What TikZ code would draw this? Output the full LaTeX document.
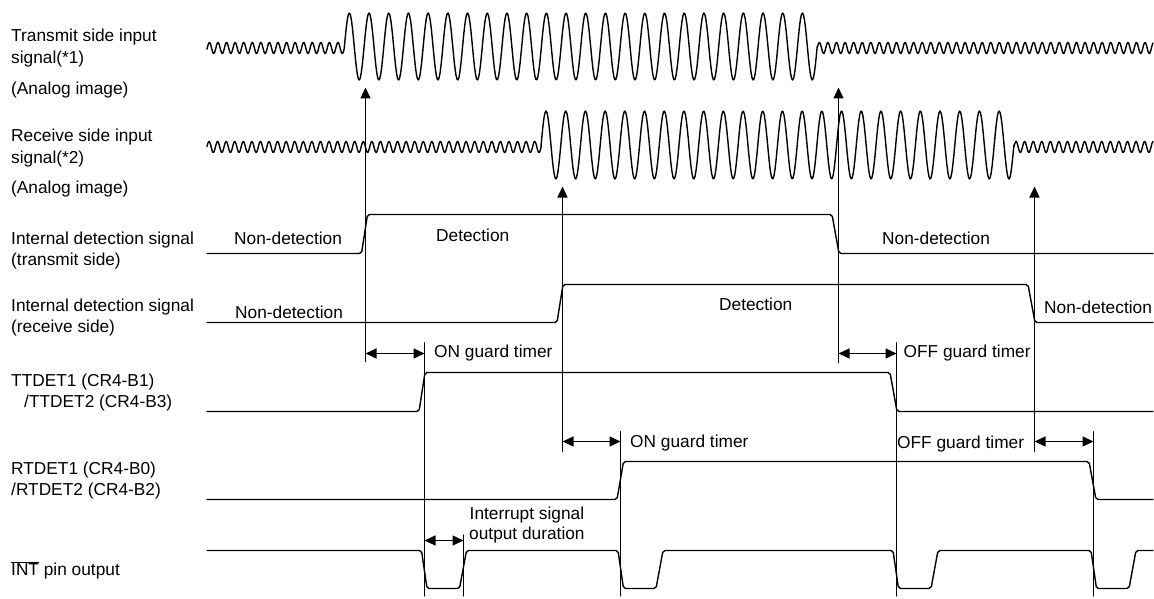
\documentclass[tikz,border=0pt]{standalone}
\usepackage{fontspec}
\setmainfont{Liberation Sans}
\usetikzlibrary{arrows.meta}

\begin{document}
\begin{tikzpicture}[x=1pt,y=-1pt,line join=round,line cap=round,
    >={Triangle[length=11pt,width=10pt]},
    sig/.style={line width=1.4pt,rounded corners=2pt},
    wave/.style={line width=1.4pt},
    mark line/.style={line width=1.3pt},
    txt/.style={inner sep=0pt,anchor=base west,font=\fontsize{17.3}{21}\selectfont}]
  \useasboundingbox (0,0) rectangle (1154,599);

  % left labels
  \node[txt] (ltx)  at (11,41.7)  {Transmit side input};
  \node[txt] (ltx2) at (11,63.3)  {signal(*1)};
  \node[txt] (ltx3) at (11,94.3)  {(Analog image)};
  \node[txt] (lrx)  at (11,141.7) {Receive side input};
  \node[txt] (lrx2) at (11,164)   {signal(*2)};
  \node[txt] (lrx3) at (11,193.3) {(Analog image)};
  \node[txt] (ltd)  at (11,244)   {Internal detection signal};
  \node[txt] (ltd2) at (11,265.5) {(transmit side)};
  \node[txt] (lrd)  at (11,311)   {Internal detection signal};
  \node[txt] (lrd2) at (11,332.5) {(receive side)};
  \node[txt] (ltt)  at (11,386)   {TTDET1 (CR4-B1)};
  \node[txt] (ltt2) at (24,407.5) {/TTDET2 (CR4-B3)};
  \node[txt] (lrt)  at (11,474.3) {RTDET1 (CR4-B0)};
  \node[txt] (lrt2) at (11,495.8) {/RTDET2 (CR4-B2)};
  \node[txt] (lint) at (11,575)   {$\overline{\hbox{INT}}$ pin output};

  % analog inputs
  \draw[wave] plot[domain=207:344.4,samples=260] (\x,{48-5.5*sin(((\x-344.4)/8.57)*360)})
    -- plot[domain=344.4:817.2,samples=480] (\x,{46.5-33.5*sin(((\x-344.4)/19.7)*360)})
    -- plot[domain=817.2:1153,samples=620] (\x,{48-5.5*sin(((\x-817.2)/8.57)*360)});
  \draw[wave] plot[domain=207:541.1,samples=620] (\x,{147-5.5*sin(((\x-541.1)/8.57)*360)})
    -- plot[domain=541.1:1013.9,samples=480] (\x,{145-34*sin(((\x-541.1)/19.7)*360)})
    -- plot[domain=1013.9:1153,samples=260] (\x,{147-5.5*sin(((\x-1013.9)/8.57)*360)});

  % detection and register signals
  \draw[sig] (207,253.5) -- (361.5,253.5) -- (367.5,214.5) -- (832,214.5) -- (839,253.5) -- (1153,253.5);
  \draw[sig] (207,322.5) -- (557,322.5) -- (563,284.5) -- (1028,284.5) -- (1035,322.5) -- (1153,322.5);
  \draw[sig] (207,411.5) -- (419,411.5) -- (425,372.5) -- (890,372.5) -- (897,411.5) -- (1153,411.5);
  \draw[sig] (207,499.5) -- (617,499.5) -- (623.5,461.5) -- (1089,461.5) -- (1096,499.5) -- (1153,499.5);
  \draw[sig] (207,550.5) foreach \p in {421.5,618,893,1091}
    { -- (\p,550.5) -- (\p+5.5,588.5) -- (\p+38,588.5) -- (\p+45,550.5) } -- (1153,550.5);

  \node[txt] (nd1) at (234,244)   {Non-detection};
  \node[txt] (dt1) at (436,241)   {Detection};
  \node[txt] (nd2) at (882,244)   {Non-detection};
  \node[txt] (nd3) at (235,318)   {Non-detection};
  \node[txt] (dt2) at (719,310)   {Detection};
  \node[txt] (nd4) at (1044,313)  {Non-detection};

  % trigger arrows
  \coordinate (a1b) at (365.5,361.7);  \coordinate (a1t) at (365.5,87.5);
  \coordinate (a2b) at (562.5,451.7);  \coordinate (a2t) at (562.5,186.5);
  \coordinate (a3b) at (838.5,362.7);  \coordinate (a3t) at (838.5,87.5);
  \coordinate (a4b) at (1034.5,451.7); \coordinate (a4t) at (1034.5,186.5);
  \draw[mark line,->] (a1b) -- (a1t);
  \draw[mark line,->] (a2b) -- (a2t);
  \draw[mark line,->] (a3b) -- (a3t);
  \draw[mark line,->] (a4b) -- (a4t);

  % timing marks
  \coordinate (t1) at (424.5,342.7);  \coordinate (t1e) at (424.5,596);
  \coordinate (t2) at (463.5,535);    \coordinate (t2e) at (463.5,596);
  \coordinate (t3) at (620.5,431.7);  \coordinate (t3e) at (620.5,596);
  \coordinate (t4) at (896.5,342.7);  \coordinate (t4e) at (896.5,596);
  \coordinate (t5) at (1093.5,431.7); \coordinate (t5e) at (1093.5,596);
  \draw[mark line] (t1) -- (t1e);
  \draw[mark line] (t2) -- (t2e);
  \draw[mark line] (t3) -- (t3e);
  \draw[mark line] (t4) -- (t4e);
  \draw[mark line] (t5) -- (t5e);

  \draw[mark line,<->] (a1b |- 0,353.5) -- (t1 |- 0,353.5);
  \draw[mark line,<->] (a3b |- 0,353.5) -- (t4 |- 0,353.5);
  \draw[mark line,<->] (a2b |- 0,441.5) -- (t3 |- 0,441.5);
  \draw[mark line,<->] (a4b |- 0,441.5) -- (t5 |- 0,441.5);
  \draw[mark line,<->] (t1 |- 0,540.5) -- (t2 |- 0,540.5);

  \node[txt] (on1)  at (434,357)   {ON guard timer};
  \node[txt] (off1) at (903.5,357) {OFF guard timer};
  \node[txt] (on2)  at (630,447)   {ON guard timer};
  \node[txt] (off2) at (897,448.5) {OFF guard timer};
  \node[txt] (irq)  at (469.5,519) {Interrupt signal};
  \node[txt] (irq2) at (469,539)   {output duration};
\end{tikzpicture}
\end{document}
